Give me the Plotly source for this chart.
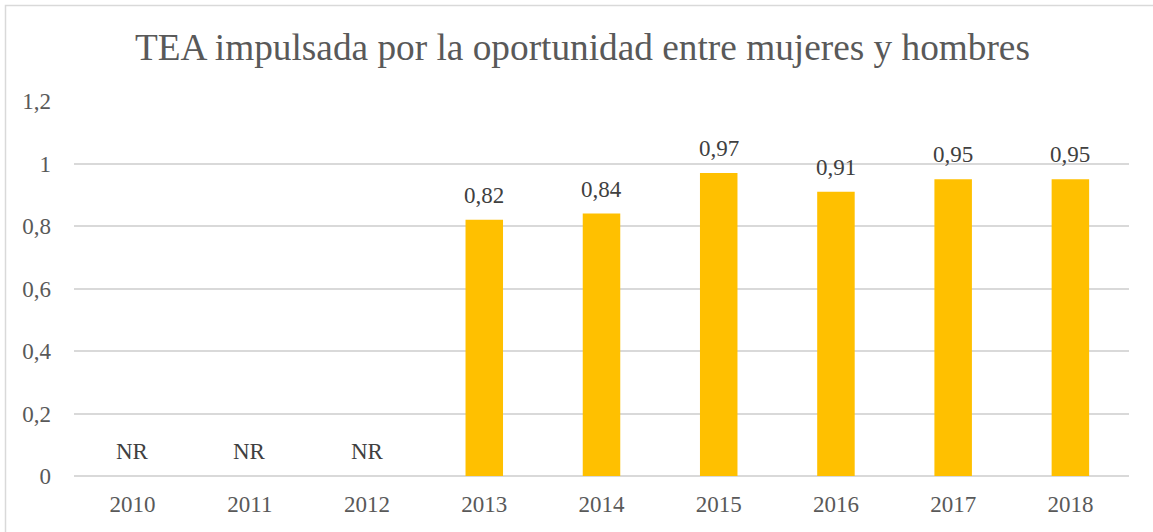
import plotly.graph_objects as go

years = ["2010", "2011", "2012", "2013", "2014", "2015", "2016", "2017", "2018"]
values = [None, None, None, 0.82, 0.84, 0.97, 0.91, 0.95, 0.95]
labels = ["NR", "NR", "NR", "0,82", "0,84", "0,97", "0,91", "0,95", "0,95"]
tick_vals = [0, 0.2, 0.4, 0.6, 0.8, 1.0, 1.2]
tick_text = ["0", "0,2", "0,4", "0,6", "0,8", "1", "1,2"]

FONT = "Liberation Serif, Times New Roman, serif"

L, R, T, B = 74, 24, 101, 56
W, H = 1153, 532
pw, ph = W - L - R, H - T - B

bar_years = [y for y, v in zip(years, values) if v is not None]
bar_vals = [v for v in values if v is not None]

fig = go.Figure()
fig.add_trace(go.Bar(
    x=bar_years, y=bar_vals,
    marker=dict(color="#FFC000", line=dict(width=0)),
    hoverinfo="skip",
))

annotations = []
for i, (v, t) in enumerate(zip(values, labels)):
    annotations.append(dict(x=i, y=(v if v is not None else 0), xref="x", yref="y",
                            text=t, showarrow=False, yanchor="bottom", yshift=10,
                            font=dict(family=FONT, size=23, color="#404040")))

def px_x(p):
    return (p - L) / pw

def px_y(p):
    return (H - B - p) / ph

fig.update_layout(
    width=W, height=H,
    margin=dict(l=L, r=R, t=T, b=B),
    paper_bgcolor="white", plot_bgcolor="white",
    title=dict(text="TEA impulsada por la oportunidad entre mujeres y hombres",
               xref="container", x=582.5 / W, xanchor="center",
               y=1 - 47 / H, yanchor="middle",
               font=dict(family=FONT, size=37.3, color="#595959")),
    xaxis=dict(type="category", categoryorder="array", categoryarray=years,
               range=[-0.5, 8.5], showgrid=False, showline=False, ticks="",
               ticklabelstandoff=12,
               tickfont=dict(family=FONT, size=23, color="#595959")),
    yaxis=dict(range=[0, 1.2], tickvals=tick_vals, ticktext=tick_text,
               showgrid=True, gridcolor="#D9D9D9", gridwidth=1.5,
               zeroline=True, zerolinecolor="#D9D9D9", zerolinewidth=1.5,
               showline=False, ticks="", ticklabelstandoff=22,
               tickfont=dict(family=FONT, size=23, color="#595959")),
    bargap=0.68,
    showlegend=False,
    annotations=annotations,
    shapes=[dict(type="rect", xref="paper", yref="paper",
                 x0=px_x(5.5), x1=px_x(1160), y0=px_y(540), y1=px_y(5.5),
                 line=dict(color="#D9D9D9", width=1.5), fillcolor="rgba(0,0,0,0)",
                 layer="below")],
)

fig.write_html("out.html", config={"displayModeBar": False},
               post_script="document.body.style.margin='0';document.body.style.overflow='hidden';")
